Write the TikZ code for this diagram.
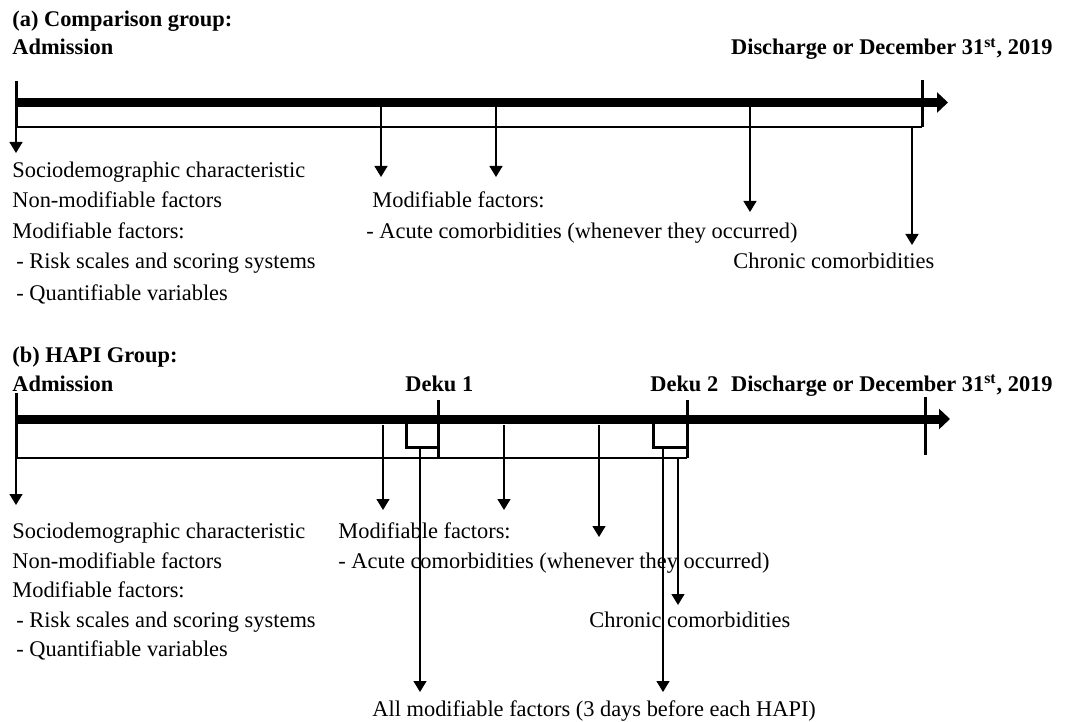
\documentclass[tikz,border=0pt]{standalone}
\usepackage{fontspec}
\setmainfont{Liberation Serif}
\usetikzlibrary{arrows.meta}

\begin{document}
\begin{tikzpicture}[x=0.5pt,y=-0.5pt,
  txt/.style={anchor=base west, inner sep=0pt, font=\fontsize{11.2}{13}\selectfont},
  head/.style={txt, font=\fontsize{11.2}{13}\selectfont\bfseries},
  bar/.style={line width=4.5pt, -{Triangle[width=10pt,length=5.5pt]}},
  bound/.style={line width=1.5pt},
  box/.style={line width=0.75pt},
  pointer/.style={line width=0.65pt, -{Triangle[width=6.5pt,length=5.5pt]}}]
\useasboundingbox (0,0) rectangle (1067,722);

% ---------- (a) Comparison group ----------
\node[head] (titleA) at (12,27) {(a) Comparison group:};
\node[head] (admA) at (12,55) {Admission};
\node[head, anchor=base east] (disA) at (1053,55) {Discharge or December 31\textsuperscript{st}, 2019};

% Timeline points
\coordinate (A0) at (16,81);
\coordinate (A1) at (16,127);
\coordinate (B0) at (922,80);
\coordinate (B1) at (922,127);
\coordinate (startA) at (16,102.5);
\coordinate (endA) at (948,102.5);

% Box under the timeline
\draw[box] (A1) -- (B1);

% Arrows to the measured variables
\coordinate (pA1) at (381,107);  \coordinate (tA1) at (381,177);
\coordinate (pA2) at (496,107);  \coordinate (tA2) at (496,177);
\coordinate (pA3) at (750,107);  \coordinate (tA3) at (750,212);
\coordinate (pA4) at (912,127);  \coordinate (tA4) at (912,245);
\coordinate (tA0) at (16,153);
\draw[pointer] (A1) -- (tA0);
\foreach \i in {1,...,4}
  \draw[pointer] (pA\i) -- (tA\i);

% Timeline
\draw[bar] (startA) -- (endA);
\draw[bound] (A0) -- (A1);
\draw[bound] (B0) -- (B1);

% Labels
\node[txt] (socA) at (12,178) {Sociodemographic characteristic};
\node[txt] (nonA) at (12,208) {Non-modifiable factors};
\node[txt] (modA) at (12,239) {Modifiable factors:};
\node[txt] (riskA) at (16,269) {- Risk scales and scoring systems};
\node[txt] (quantA) at (16,300) {- Quantifiable variables};
\node[txt] (modAcuteA) at (372,208) {Modifiable factors:};
\node[txt] (acuteA) at (366,239) {- Acute comorbidities (whenever they occurred)};
\node[txt] (chronA) at (733,269) {Chronic comorbidities};

% ---------- (b) HAPI group ----------
\node[head] (titleB) at (12,362) {(b) HAPI Group:};
\node[head] (admB) at (12,391) {Admission};
\node[head] (dekuOne) at (405,391) {Deku 1};
\node[head] (dekuTwo) at (650,391) {Deku 2};
\node[head, anchor=base east] (disB) at (1053,391) {Discharge or December 31\textsuperscript{st}, 2019};

% Timeline points
\coordinate (C0) at (16,393);
\coordinate (C1) at (16,458);
\coordinate (D0) at (438,400);
\coordinate (D1) at (438,458);
\coordinate (E0) at (687,400);
\coordinate (E1) at (687,458);
\coordinate (F0) at (925,397);
\coordinate (F1) at (925,455);
\coordinate (startB) at (16,419);
\coordinate (endB) at (950,419);

% Box under the timeline
\draw[box] (C1) -- (E1);

% Three-day windows before each HAPI
\draw[bound] (406,423) -- (406,447) coordinate (D2) -- (D1 |- D2);
\draw[bound] (653,423) -- (653,447) coordinate (E2) -- (E1 |- E2);

% Arrows to the measured variables
\coordinate (pB1) at (383,425);  \coordinate (tB1) at (383,510);
\coordinate (pB2) at (504,425);  \coordinate (tB2) at (504,510);
\coordinate (pB3) at (599,425);  \coordinate (tB3) at (599,537);
\coordinate (pB4) at (678,458);  \coordinate (tB4) at (678,605);
\coordinate (pB5) at (420,447);  \coordinate (tB5) at (420,692);
\coordinate (pB6) at (663,447);  \coordinate (tB6) at (663,692);
\coordinate (tB0) at (16,505);
\draw[pointer] (C1) -- (tB0);
\foreach \i in {1,...,6}
  \draw[pointer] (pB\i) -- (tB\i);

% Timeline
\draw[bar] (startB) -- (endB);
\draw[bound] (C0) -- (C1);
\draw[bound] (D0) -- (D1);
\draw[bound] (E0) -- (E1);
\draw[bound] (F0) -- (F1);

% Labels
\node[txt] (socB) at (12,538) {Sociodemographic characteristic};
\node[txt] (nonB) at (12,568) {Non-modifiable factors};
\node[txt] (modB) at (12,597) {Modifiable factors:};
\node[txt] (riskB) at (16,627) {- Risk scales and scoring systems};
\node[txt] (quantB) at (16,656) {- Quantifiable variables};
\node[txt] (modAcuteB) at (338,538) {Modifiable factors:};
\node[txt] (acuteB) at (338,568) {- Acute comorbidities (whenever they occurred)};
\node[txt] (chronB) at (589,627) {Chronic comorbidities};
\node[txt] (allB) at (372,716) {All modifiable factors (3 days before each HAPI)};
\end{tikzpicture}
\end{document}
